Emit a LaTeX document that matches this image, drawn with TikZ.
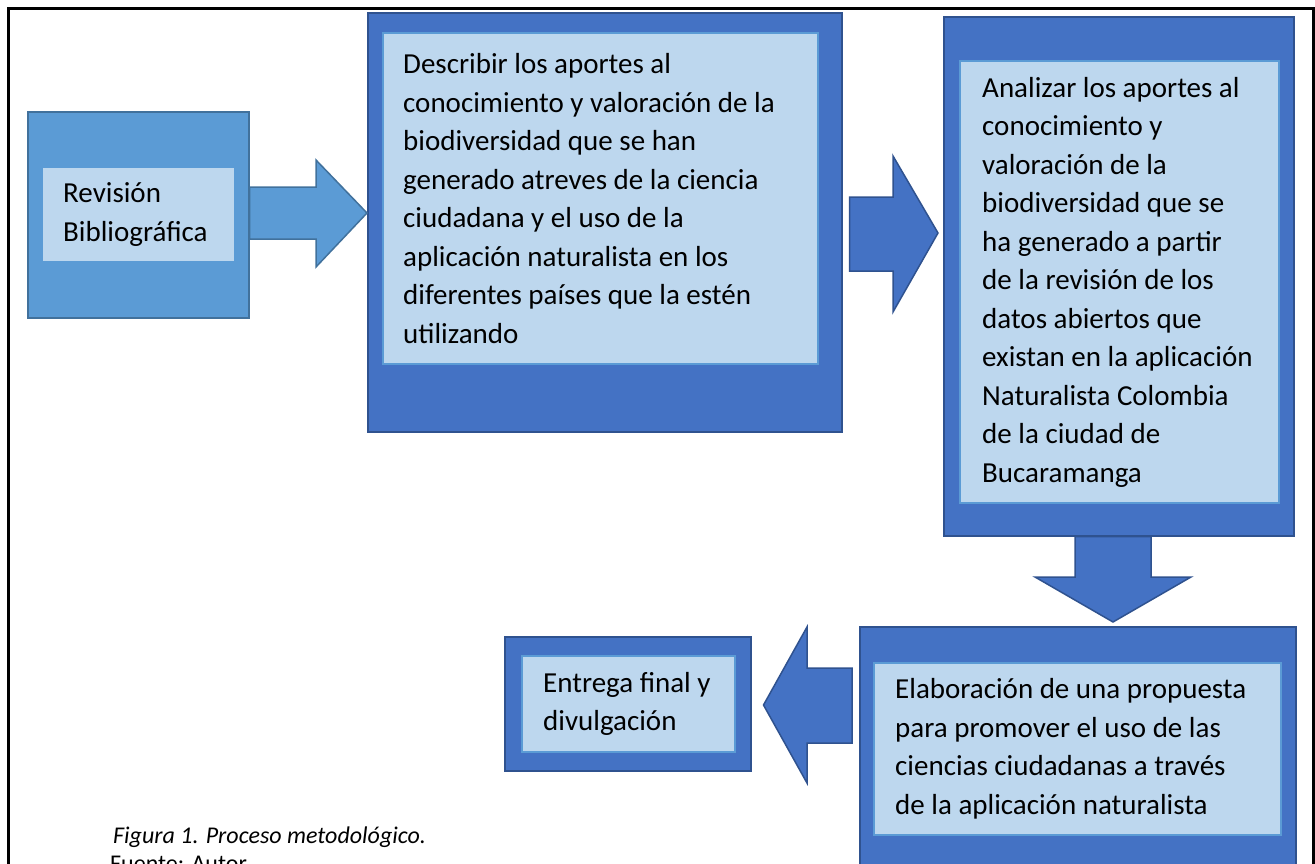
\documentclass[tikz,border=0pt]{standalone}
\usepackage{fontspec}
\setmainfont{Carlito}
\definecolor{darkfill}{HTML}{4472C4}
\definecolor{darkline}{HTML}{2F528F}
\definecolor{midfill}{HTML}{5B9BD5}
\definecolor{midline}{HTML}{41719C}
\definecolor{lightfill}{HTML}{BDD7EE}
\tikzset{
    outerbox/.style={draw=darkline, fill=darkfill, line width=1.5pt, anchor=north west, inner sep=0pt},
    outerlight/.style={draw=midline, fill=midfill, line width=1.5pt, anchor=north west, inner sep=0pt},
    innerbox/.style={draw=midfill, fill=lightfill, line width=2pt, anchor=north west, inner sep=0pt},
    txt/.style={anchor=west, align=left, inner sep=0pt, font=\fontsize{29}{38.5}\selectfont},
    blockdark/.style={draw=darkline, fill=darkfill, line width=1.5pt, line join=miter},
    blocklight/.style={draw=midline, fill=midfill, line width=1.5pt, line join=miter},
    frame/.style={draw=black, line width=3pt}
}
\begin{document}
\begin{tikzpicture}[x=1pt, y=-1pt]
    \useasboundingbox (0,0) rectangle (1315,863);
    % Outer frame
    \draw[frame] (8,8) rectangle (1313,900);
    % Revision box
    \node[outerlight, minimum width=221, minimum height=206] (rev) at (27,111) {};
    \node[innerbox, draw=lightfill, minimum width=189, minimum height=91] (revin) at (43,168) {};
    \node[txt] (revtxt) at ([xshift=20pt]revin.west) {Revisión\\Bibliográfica};
    % Describir box
    \node[outerbox, minimum width=474, minimum height=419] (desc) at (367,12) {};
    \node[innerbox, minimum width=435, minimum height=331] (descin) at (382,32) {};
    \node[txt] (desctxt) at ([xshift=21pt]descin.west) {Describir los aportes al\\conocimiento y valoración de la\\biodiversidad que se han\\generado atreves de la ciencia\\ciudadana y el uso de la\\aplicación naturalista en los\\diferentes países que la estén\\utilizando};
    % Analizar box
    \node[outerbox, minimum width=350, minimum height=519] (ana) at (943,16) {};
    \node[innerbox, minimum width=319, minimum height=442] (anain) at (959,60) {};
    \node[txt] (anatxt) at ([xshift=23pt]anain.west) {Analizar los aportes al\\conocimiento y\\valoración de la\\biodiversidad que se\\ha generado a partir\\de la revisión de los\\datos abiertos que\\existan en la aplicación\\Naturalista Colombia\\de la ciudad de\\Bucaramanga};
    % Elaboracion box
    \node[outerbox, minimum width=436, minimum height=254] (elab) at (859,626) {};
    \node[innerbox, minimum width=407, minimum height=172] (elabin) at (873,662) {};
    \node[txt] (elabtxt) at ([xshift=22pt]elabin.west) {Elaboración de una propuesta\\para promover el uso de las\\ciencias ciudadanas a través\\de la aplicación naturalista};
    % Entrega box
    \node[outerbox, minimum width=246, minimum height=134] (ent) at (504,636) {};
    \node[innerbox, minimum width=213, minimum height=96] (entin) at (521,655) {};
    \node[txt] (enttxt) at ([xshift=22pt]entin.west) {Entrega final y\\divulgación};
    % Block arrows
    \draw[blocklight] (rev.east |- 0,187) -- (316,187) -- (316,160) -- (desc.west |- 0,213)
        -- (316,267) -- (316,239) -- (rev.east |- 0,239) -- cycle;
    \draw[blockdark] ([xshift=7pt]desc.east |- 0,197) -- (893,197) -- (893,156) -- ([xshift=-5pt]ana.west |- 0,233)
        -- (893,312) -- (893,271) -- ([xshift=7pt]desc.east |- 0,271) -- cycle;
    \draw[blockdark] (1075,0 |- ana.south) -- (1075,577) -- (1035,577) -- ([yshift=4pt]elab.north -| 1113,0)
        -- (1191,577) -- (1151,577) -- (1151,0 |- ana.south) -- cycle;
    \draw[blockdark] ([xshift=-7pt]elab.west |- 0,668) -- (807,668) -- (807,627) -- ([xshift=12pt]ent.east |- 0,705)
        -- (807,783) -- (807,743) -- ([xshift=-7pt]elab.west |- 0,743) -- cycle;
    % Caption
    \node[anchor=base west, inner sep=0pt, font=\fontsize{24}{28}\selectfont\itshape] (cap) at (113,843) {Figura 1. Proceso metodológico.};
    \node[anchor=base west, inner sep=0pt, font=\fontsize{24}{28}\selectfont] (src) at (110,871) {Fuente: Autor};
\end{tikzpicture}
\end{document}
